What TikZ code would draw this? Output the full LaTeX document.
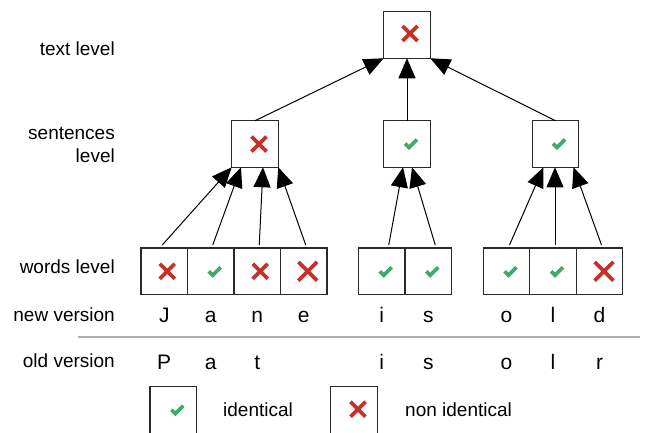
\documentclass[tikz,border=0pt]{standalone}
\usepackage{fontspec}
\setmainfont{Liberation Sans}
\usetikzlibrary{arrows.meta,calc}
\definecolor{okgreen}{HTML}{3FAA6B}
\definecolor{badred}{HTML}{C5302B}
\definecolor{edgegray}{HTML}{2A2A2A}
\definecolor{rulegray}{HTML}{B0B0B0}

\begin{document}
\begin{tikzpicture}[x=1pt,y=-1pt,
  cell/.style={draw=edgegray,line width=1.2pt,minimum width=46.5pt,minimum height=46.5pt,inner sep=0pt,outer sep=0pt},
  lvl/.style={font=\fontsize{19}{23}\selectfont,inner sep=0pt,anchor=base east,align=right},
  letter/.style={font=\fontsize{21}{25}\selectfont,inner sep=0pt,anchor=base},
  legtext/.style={font=\fontsize{19}{23}\selectfont,inner sep=0pt,anchor=base west},
  link/.style={draw=black,line width=1pt,-{Triangle[length=20pt,width=17pt]}},
  cross/.pic={\draw[badred,line width=3.6pt] (-7.5,-7.5)--(7.5,7.5) (-7.5,7.5)--(7.5,-7.5);},
  check/.pic={\draw[okgreen,line width=3.6pt] (-6,-1)--(-2,3)--(6,-5);},
]
\useasboundingbox (0,0) rectangle (648,432);
\clip (0,0) rectangle (648,432);

% level labels
\node[lvl] (ltext) at (115,55) {text level};
\node[lvl,anchor=east] (lsent) at (115,144.7) {sentences\\level};
\node[lvl] (lwords) at (115,273) {words level};
\node[lvl] (lnew) at (115,321) {new version};
\node[lvl] (lold) at (115,367) {old version};

% text level
\node[cell] (top) at (407,35) {};
% sentence level
\node[cell] (s1) at (255,144) {};
\node[cell] (s2) at (407,144) {};
\node[cell] (s3) at (555.5,144) {};
% word level
\node[cell] (w1) at (164.25,271.25) {};
\node[cell] (w2) at (210.75,271.25) {};
\node[cell] (w3) at (257.25,271.25) {};
\node[cell] (w4) at (303.75,271.25) {};
\node[cell] (w5) at (381.75,271.25) {};
\node[cell] (w6) at (428.25,271.25) {};
\node[cell] (w7) at (506.5,271.25) {};
\node[cell] (w8) at (553,271.25) {};
\node[cell] (w9) at (599.5,271.25) {};

% comparison marks
\pic at ($(top)+(3,-1.5)$) {cross};
\pic at ($(s1)+(4,0)$) {cross};
\pic at ($(s2)+(4,0.5)$) {check};
\pic at ($(s3)+(3.5,0.5)$) {check};
\pic at ($(w1)+(3,0)$) {cross};
\pic at ($(w2)+(4,1)$) {check};
\pic at ($(w3)+(3,0)$) {cross};
\pic[scale=1.25] at ($(w4)+(4,0)$) {cross};
\pic at ($(w5)+(4,1)$) {check};
\pic at ($(w6)+(4,1)$) {check};
\pic at ($(w7)+(4,1)$) {check};
\pic at ($(w8)+(4,1)$) {check};
\pic[scale=1.25] at ($(w9)+(4.5,0)$) {cross};

% words -> sentences
\draw[link] ($(w1.north)+(-2,-3)$) -- (s1.south west);
\draw[link] ($(w2.north)+(2,-3)$) -- ($(s1.south)+(-14,0)$);
\draw[link] ($(w3.north)+(2,-3)$) -- ($(s1.south)+(8,0)$);
\draw[link] ($(w4.north)+(2,-3)$) -- (s1.south east);
\draw[link] ($(w5.north)+(7,-3)$) -- ($(s2.south)+(-4,0)$);
\draw[link] ($(w6.north)+(7,-3)$) -- ($(s2.south)+(5,0)$);
\draw[link] ($(w7.north)+(3,-3)$) -- ($(s3.south)+(-12,0)$);
\draw[link] ($(w8.north)+(2,-3)$) -- ($(s3.south)+(-0.5,0)$);
\draw[link] ($(w9.north)+(2,-3)$) -- ($(s3.south)+(18,0)$);
% sentences -> text
\draw[link] (s1.north) -- (top.south west);
\draw[link] (s2.north) -- (top.south);
\draw[link] (s3.north) -- (top.south east);

% new version letters
\node[letter] (n1) at (164.25,322) {J};
\node[letter] (n2) at (210.75,322) {a};
\node[letter] (n3) at (257.25,322) {n};
\node[letter] (n4) at (303.75,322) {e};
\node[letter] (n5) at (381.75,322) {i};
\node[letter] (n6) at (428.25,322) {s};
\node[letter] (n7) at (506.5,322) {o};
\node[letter] (n8) at (553,322) {l};
\node[letter] (n9) at (599.5,322) {d};

% separator
\draw[rulegray,line width=1.2pt] (78,337) -- (640,337);

% old version letters
\node[letter] (o1) at (164.25,369) {P};
\node[letter] (o2) at (210.75,369) {a};
\node[letter] (o3) at (257.25,369) {t};
\node[letter] (o5) at (381.75,369) {i};
\node[letter] (o6) at (428.25,369) {s};
\node[letter] (o7) at (506.5,369) {o};
\node[letter] (o8) at (553,369) {l};
\node[letter] (o9) at (599.5,369) {r};

% legend
\node[cell,minimum height=62pt,anchor=north] (k1) at (173.3,386.7) {};
\pic at ($(k1.north)+(4,24)$) {check};
\node[legtext] (k1t) at (223,416) {identical};
\node[cell,minimum height=62pt,anchor=north] (k2) at (354,386.7) {};
\pic at ($(k2.north)+(4,22.5)$) {cross};
\node[legtext] (k2t) at (405,416) {non identical};
\end{tikzpicture}
\end{document}
